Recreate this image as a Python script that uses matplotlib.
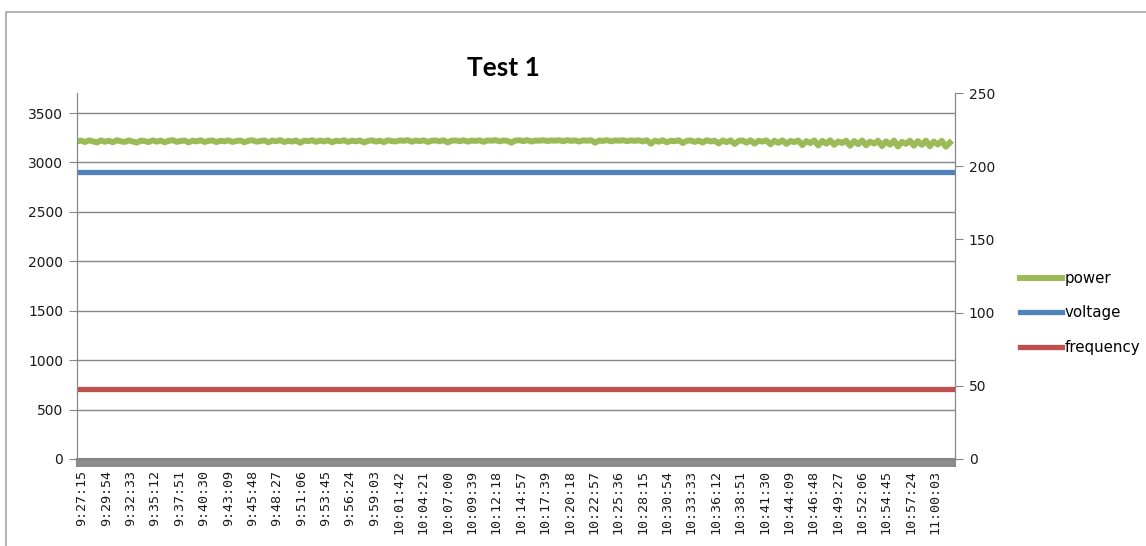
import matplotlib
matplotlib.use("Agg")
import matplotlib.pyplot as plt
from matplotlib.ticker import MultipleLocator
from matplotlib.transforms import ScaledTranslation
from matplotlib.patches import Rectangle
import numpy as np

# Daten
n_seconds = 5728          # Anzahl Messpunkte (1 pro Sekunde)
power_step = 26
power = [
    3212, 3222, 3207, 3224, 3213, 3203, 3223, 3210, 3220, 3205, 3225, 3214, 3208, 3223, 3212, 3201, 3221, 3216, 3207, 3224,
    3211, 3222, 3204, 3219, 3226, 3209, 3217, 3223, 3203, 3221, 3213, 3225, 3208, 3219, 3223, 3206, 3220, 3214, 3224, 3208,
    3217, 3223, 3205, 3220, 3225, 3210, 3216, 3224, 3204, 3222, 3215, 3226, 3207, 3219, 3212, 3223, 3199, 3221, 3216, 3225,
    3209, 3222, 3213, 3224, 3205, 3220, 3215, 3225, 3208, 3221, 3214, 3223, 3202, 3218, 3224, 3211, 3221, 3206, 3225, 3216,
    3213, 3223, 3219, 3226, 3210, 3222, 3216, 3224, 3208, 3220, 3223, 3214, 3225, 3203, 3220, 3223, 3215, 3225, 3211, 3222,
    3218, 3224, 3209, 3223, 3220, 3226, 3214, 3223, 3219, 3200, 3222, 3225, 3216, 3226, 3212, 3222, 3220, 3225, 3217, 3223,
    3221, 3225, 3215, 3226, 3219, 3223, 3212, 3224, 3220, 3225, 3201, 3222, 3218, 3226, 3214, 3223, 3220, 3225, 3216, 3223,
    3219, 3224, 3213, 3225, 3190, 3221, 3210, 3225, 3204, 3220, 3215, 3225, 3197, 3219, 3223, 3208, 3222, 3202, 3225, 3213,
    3220, 3193, 3223, 3206, 3224, 3187, 3218, 3223, 3200, 3225, 3191, 3219, 3211, 3224, 3183, 3221, 3198, 3224, 3188, 3218,
    3206, 3222, 3176, 3216, 3196, 3223, 3172, 3219, 3190, 3224, 3179, 3213, 3197, 3221, 3169, 3217, 3185, 3223, 3174, 3211,
    3191, 3220, 3166, 3214, 3180, 3222, 3162, 3209, 3188, 3220, 3170, 3216, 3178, 3221, 3164, 3212, 3182, 3219, 3160, 3200,
]
voltage = 196
frequency = 48

label_step = 159
zeit_labels = [
    "9:27:15", "9:29:54", "9:32:33", "9:35:12", "9:37:51", "9:40:30", "9:43:09", "9:45:48",
    "9:48:27", "9:51:06", "9:53:45", "9:56:24", "9:59:03", "10:01:42", "10:04:21", "10:07:00",
    "10:09:39", "10:12:18", "10:14:57", "10:17:39", "10:20:18", "10:22:57", "10:25:36", "10:28:15",
    "10:30:54", "10:33:33", "10:36:12", "10:38:51", "10:41:30", "10:44:09", "10:46:48", "10:49:27",
    "10:52:06", "10:54:45", "10:57:24", "11:00:03",
]

gruen = "#9BBB59"
blau = "#4F81BD"
rot = "#C0504D"
grau = "#868686"

fig = plt.figure(figsize=(11.46, 5.46), dpi=100)
fig.patches.append(Rectangle((6 / 1146, -0.1), 1.2, 1 - 12 / 546 + 0.1, transform=fig.transFigure,
                             fill=False, edgecolor="#a6a6a6", linewidth=1.2))

ax = fig.add_axes([77 / 1146, 1 - 459 / 546, (955 - 77) / 1146, (459 - 93) / 546])
ax2 = ax.twinx()

x_power = np.arange(len(power)) * power_step
linie_power, = ax.plot(x_power, power, color=gruen, lw=4.3, label="power", zorder=3)
linie_volt, = ax2.plot([0, n_seconds], [voltage, voltage], color=blau, lw=3.8, label="voltage")
linie_freq, = ax2.plot([0, n_seconds], [frequency, frequency], color=rot, lw=3.8, label="frequency")

ax.set_xlim(0, n_seconds)
ax.set_ylim(0, 3703)
ax2.set_ylim(0, 250)
ax.set_yticks(range(0, 3501, 500))
ax2.set_yticks(range(0, 251, 50))
ax.grid(axis="y", color=grau, lw=1)
ax.set_axisbelow(True)

tick_pos = np.arange(len(zeit_labels)) * label_step
ax.set_xticks(tick_pos)
ax.set_xticklabels(zeit_labels, rotation=90, family="DejaVu Sans Mono", fontsize=9.6, color="#1a1a1a")
ax.xaxis.set_minor_locator(MultipleLocator(4))
ax.tick_params(axis="x", which="both", length=6, width=1.5, color="#8c8c8c", pad=2)
for lbl in ax.get_xticklabels():
    lbl.set_transform(lbl.get_transform() + ScaledTranslation(5 / 100, 0, fig.dpi_scale_trans))

ax.tick_params(axis="y", length=6, color=grau, labelsize=10, labelcolor="#1a1a1a", pad=4)
ax2.tick_params(axis="y", length=6, color=grau, labelsize=10, labelcolor="#1a1a1a", pad=4)

for a in (ax, ax2):
    a.spines["top"].set_visible(False)
    for s in ("left", "right", "bottom"):
        a.spines[s].set_color(grau)
ax.spines["bottom"].set_linewidth(1.5)

fig.text(503 / 1146, 1 - 68 / 546, "Test 1", ha="center", va="center",
         fontsize=19, fontweight="bold", family="Lato")

fig.legend([linie_power, linie_volt, linie_freq], ["power", "voltage", "frequency"],
           loc="center left", bbox_to_anchor=(1020 / 1146, 1 - 313 / 546), frameon=False,
           fontsize=10.8, handlelength=2.8, handletextpad=0.15, labelspacing=1.3,
           borderpad=0, borderaxespad=0)

plt.savefig("out.png", dpi=100)
